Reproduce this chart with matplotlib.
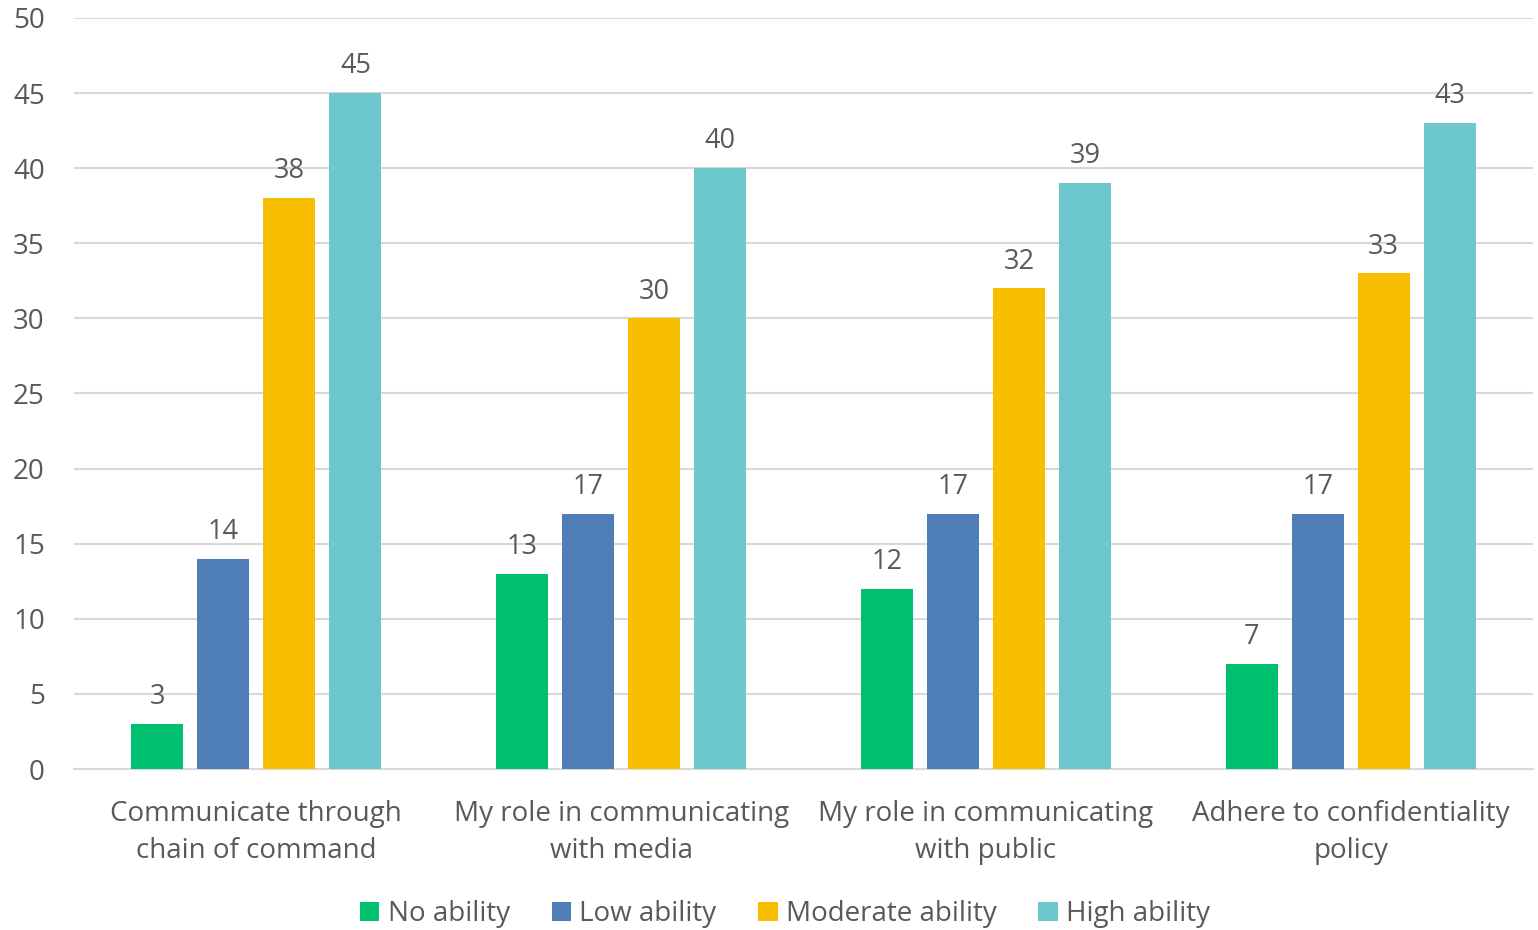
import numpy as np
import matplotlib
matplotlib.use("Agg")
import matplotlib.pyplot as plt
from matplotlib.patches import Patch

# ------------------------------------------------------------------
# Dados
# ------------------------------------------------------------------
categories = [
    "Communicate through\nchain of command",
    "My role in communicating\nwith media",
    "My role in communicating\nwith public",
    "Adhere to confidentiality\npolicy",
]
series_names = ["No ability", "Low ability", "Moderate ability", "High ability"]
no_ability = [3, 13, 12, 7]
low_ability = [14, 17, 17, 17]
moderate_ability = [38, 30, 32, 33]
high_ability = [45, 40, 39, 43]
y_ticks = [0, 5, 10, 15, 20, 25, 30, 35, 40, 45, 50]

COLORS = ["#00BF6F", "#4F7DB5", "#F8BE00", "#6CC8CC"]
TEXT = "#595959"
GRID = "#D9D9D9"

plt.rcParams["font.family"] = ["Open Sans", "DejaVu Sans"]

fig = plt.figure(figsize=(15.38, 9.3), dpi=100)
ax = fig.add_axes([74 / 1538, 1 - 769 / 930, 1459 / 1538, 751 / 930])

x = np.arange(len(categories))
width = 0.143
step = 0.181
all_series = [no_ability, low_ability, moderate_ability, high_ability]

for i, (vals, color) in enumerate(zip(all_series, COLORS)):
    pos = x + (i - 1.5) * step
    bars = ax.bar(pos, vals, width=width, color=color, zorder=3)
    for bar, v in zip(bars, vals):
        ax.text(bar.get_x() + bar.get_width() / 2, v + 0.85, f"{v}",
                ha="center", va="bottom", fontsize=19.5, color=TEXT)

ax.set_xlim(-0.5, len(categories) - 0.5)
ax.set_ylim(0, 50)
ax.set_yticks(y_ticks)
ax.set_xticks(x)
ax.set_xticklabels(categories, fontsize=20, color=TEXT, linespacing=1.45)
ax.tick_params(axis="y", labelsize=20, labelcolor=TEXT, length=0, pad=21)
ax.tick_params(axis="x", length=0, pad=22)

ax.grid(axis="y", color=GRID, linewidth=1.5, zorder=0)
ax.set_axisbelow(True)
for name, spine in ax.spines.items():
    if name == "bottom":
        spine.set_color(GRID)
        spine.set_linewidth(1.5)
    else:
        spine.set_visible(False)

handles = [Patch(facecolor=c, label=n) for c, n in zip(COLORS, series_names)]
leg = fig.legend(handles=handles, loc="center", bbox_to_anchor=(785 / 1538, 1 - 914 / 930),
                 ncol=4, frameon=False, fontsize=20, handlelength=0.7, handleheight=0.7,
                 handletextpad=0.3, columnspacing=1.5)
for t in leg.get_texts():
    t.set_color(TEXT)

fig.savefig("out.png", dpi=100, facecolor="white")
